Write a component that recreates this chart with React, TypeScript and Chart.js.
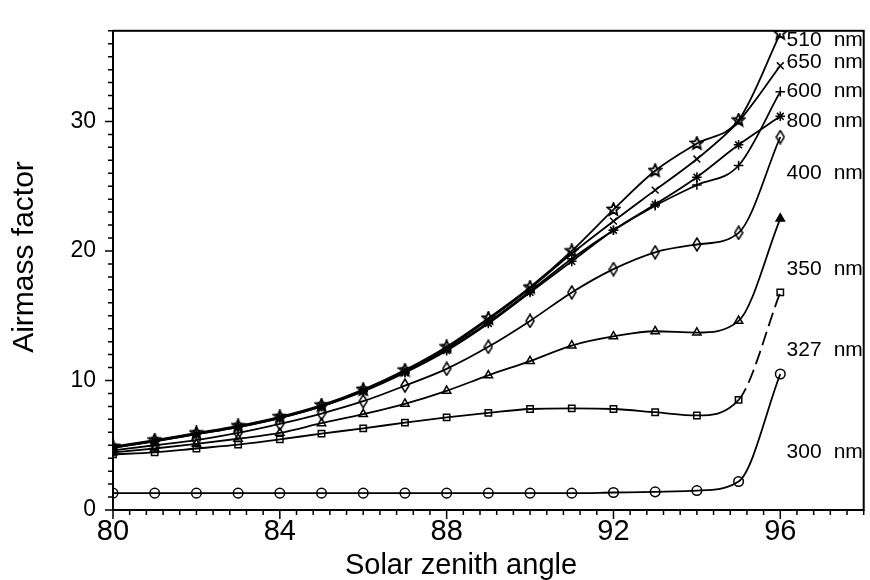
import React, { useEffect, useRef } from 'react';
import { Chart, registerables } from 'chart.js';

Chart.register(...registerables);

// ---- data ----
const angles = [80, 81, 82, 83, 84, 85, 86, 87, 88, 89, 90, 91, 92, 93, 94, 95, 96];

const nm510 = [4.9, 5.4, 5.95, 6.5, 7.2, 8.1, 9.3, 10.8, 12.6, 14.8, 17.2, 20.0, 23.2, 26.2, 28.3, 30.1, 36.8];
const nm650 = [4.85, 5.35, 5.9, 6.45, 7.15, 8.05, 9.25, 10.75, 12.5, 14.7, 17.1, 19.8, 22.3, 24.7, 27.1, 30.0, 34.3];
const nm600 = [4.8, 5.3, 5.85, 6.4, 7.1, 8.0, 9.2, 10.65, 12.4, 14.5, 16.9, 19.4, 21.6, 23.5, 25.1, 26.6, 32.3];
const nm800 = [4.8, 5.3, 5.85, 6.4, 7.1, 8.0, 9.15, 10.6, 12.3, 14.4, 16.8, 19.2, 21.6, 23.6, 25.7, 28.2, 30.4];
const nm400 = [4.6, 5.0, 5.4, 5.95, 6.65, 7.45, 8.4, 9.6, 10.9, 12.6, 14.6, 16.8, 18.6, 19.9, 20.5, 21.4, 28.8];
const nm350 = [4.45, 4.75, 5.1, 5.5, 5.95, 6.7, 7.4, 8.2, 9.2, 10.4, 11.5, 12.7, 13.4, 13.8, 13.7, 14.6, 22.5];
const nm327 = [4.3, 4.45, 4.75, 5.05, 5.45, 5.9, 6.3, 6.75, 7.15, 7.5, 7.8, 7.85, 7.8, 7.55, 7.3, 8.5, 16.8];
const nm300 = [1.3, 1.3, 1.3, 1.3, 1.3, 1.3, 1.3, 1.3, 1.3, 1.3, 1.3, 1.3, 1.35, 1.4, 1.5, 2.2, 10.5];

const xTickValues = [80, 84, 88, 92, 96];
const yTickValues = [0, 10, 20, 30];

const curveLabelNumbers = ['510', '650', '600', '800', '400', '350', '327', '300'];
const curveLabelY = [36.3, 34.6, 32.3, 30.0, 26.0, 18.6, 12.3, 4.5];
const curveLabelUnit = 'nm';

const X_MIN = 80;
const X_MAX = 98;
const Y_MIN = 0;
const Y_MAX = 37;

const FONT = '"Liberation Sans", Arial, Helvetica, sans-serif';

function makeStar(size: number) {
  const c = document.createElement('canvas');
  c.width = size;
  c.height = size;
  const ctx = c.getContext('2d')!;
  ctx.strokeStyle = '#000';
  ctx.lineWidth = 1.8;
  const cx = size / 2, cy = size / 2;
  const R = size / 2 - 1, r = R * 0.45;
  ctx.beginPath();
  for (let i = 0; i < 10; i++) {
    const a = -Math.PI / 2 + (i * Math.PI) / 5;
    const rad = i % 2 === 0 ? R : r;
    const px = cx + rad * Math.cos(a);
    const py = cy + rad * Math.sin(a);
    if (i === 0) ctx.moveTo(px, py); else ctx.lineTo(px, py);
  }
  ctx.closePath();
  ctx.stroke();
  return c;
}

function makeDiamond(w: number, h: number) {
  const c = document.createElement('canvas');
  c.width = w;
  c.height = h;
  const ctx = c.getContext('2d')!;
  ctx.strokeStyle = '#000';
  ctx.lineWidth = 1.5;
  ctx.beginPath();
  ctx.moveTo(w / 2, 1);
  ctx.lineTo(w - 1, h / 2);
  ctx.lineTo(w / 2, h - 1);
  ctx.lineTo(1, h / 2);
  ctx.closePath();
  ctx.stroke();
  return c;
}

const decorPlugin = {
  id: 'decor',
  afterDraw(chart: any) {
    const { ctx, chartArea } = chart;
    const { left, right, top, bottom } = chartArea;
    const xs = chart.scales.x;
    const ys = chart.scales.y;
    ctx.save();
    ctx.strokeStyle = '#000';
    ctx.fillStyle = '#000';

    // curve labels (clipped at the right frame, as in the reference)
    ctx.save();
    ctx.beginPath();
    ctx.rect(left, top - 9, right - left, bottom - top + 9);
    ctx.clip();
    ctx.font = `21px ${FONT}`;
    ctx.textAlign = 'left';
    ctx.textBaseline = 'middle';
    curveLabelNumbers.forEach((t, i) => {
      const py = ys.getPixelForValue(curveLabelY[i]);
      ctx.fillText(t, xs.getPixelForValue(96.15), py);
      ctx.fillText(curveLabelUnit, xs.getPixelForValue(97.28), py);
    });
    ctx.restore();

    // frame
    ctx.lineWidth = 2;
    ctx.strokeRect(left, top, right - left, bottom - top);

    // x ticks (minor every 0.4, major every 4)
    ctx.lineWidth = 1.5;
    ctx.beginPath();
    const nx = Math.round((X_MAX - X_MIN) / 0.4);
    for (let i = 0; i <= nx; i++) {
      const v = X_MIN + i * 0.4;
      const px = xs.getPixelForValue(v);
      const len = i % 10 === 0 ? 9 : 5;
      ctx.moveTo(px, bottom);
      ctx.lineTo(px, bottom + len);
    }
    // y ticks (minor every 1, major every 10)
    for (let v = Y_MIN; v <= Y_MAX; v++) {
      const py = ys.getPixelForValue(v);
      const len = v % 10 === 0 ? 8 : 5;
      ctx.moveTo(left, py);
      ctx.lineTo(left - len, py);
    }
    ctx.stroke();

    // axis titles
    ctx.font = `29px ${FONT}`;
    ctx.textAlign = 'center';
    ctx.textBaseline = 'alphabetic';
    ctx.fillText('Solar zenith angle', 461, 574);

    ctx.font = `30px ${FONT}`;
    ctx.save();
    ctx.translate(33, 257);
    ctx.rotate(-Math.PI / 2);
    ctx.fillText('Airmass factor', 0, 0);
    ctx.restore();

    ctx.restore();
  },
};

export default function App() {
  const canvasRef = useRef<HTMLCanvasElement | null>(null);

  useEffect(() => {
    const canvas = canvasRef.current;
    if (!canvas) return;
    const star = makeStar(15);
    const diamond = makeDiamond(10, 15);

    const toPts = (arr: number[]) => angles.map((a, i) => ({ x: a, y: arr[i] }));
    const base = {
      borderColor: '#000',
      borderWidth: 1.8,
      pointBorderColor: '#000',
      pointBackgroundColor: 'rgba(0,0,0,0)',
      pointBorderWidth: 1.5,
      pointRadius: 4.8,
      cubicInterpolationMode: 'monotone' as const,
      fill: false,
    };

    const chart = new Chart(canvas, {
      type: 'line',
      data: {
        datasets: [
          { ...base, label: '510 nm', data: toPts(nm510), pointStyle: star as any },
          { ...base, label: '650 nm', data: toPts(nm650), pointStyle: 'crossRot' },
          { ...base, label: '600 nm', data: toPts(nm600), pointStyle: 'cross' },
          { ...base, label: '800 nm', data: toPts(nm800), pointStyle: 'star' },
          { ...base, label: '400 nm', data: toPts(nm400), pointStyle: diamond as any },
          {
            ...base,
            label: '350 nm',
            data: toPts(nm350),
            pointStyle: 'triangle',
            pointBackgroundColor: nm350.map((_, i) => (i === nm350.length - 1 ? '#000' : 'rgba(0,0,0,0)')),
          },
          {
            ...base,
            label: '327 nm',
            data: toPts(nm327),
            pointStyle: 'rect',
            pointRadius: 4.5,
            segment: {
              borderDash: (c: any) => (c.p0DataIndex === nm327.length - 2 ? [14, 6] : undefined),
            },
          },
          { ...base, label: '300 nm', data: toPts(nm300), pointStyle: 'circle' },
        ],
      },
      options: {
        responsive: false,
        animation: false,
        events: [],
        layout: { padding: { top: 9, right: 6, left: 0, bottom: 0 } },
        plugins: { legend: { display: false }, tooltip: { enabled: false } },
        scales: {
          x: {
            type: 'linear',
            min: X_MIN,
            max: X_MAX,
            grid: { display: false, drawTicks: false },
            border: { display: false },
            afterBuildTicks: (s: any) => {
              s.ticks = xTickValues.map((v) => ({ value: v }));
            },
            afterFit: (s: any) => {
              s.height = 70;
            },
            ticks: {
              color: '#000',
              font: { family: FONT, size: 29 },
              padding: 5,
              maxRotation: 0,
              autoSkip: false,
            },
          },
          y: {
            type: 'linear',
            min: Y_MIN,
            max: Y_MAX,
            grid: { display: false, drawTicks: false },
            border: { display: false },
            afterBuildTicks: (s: any) => {
              s.ticks = yTickValues.map((v) => ({ value: v }));
            },
            afterFit: (s: any) => {
              s.width = 113;
            },
            ticks: {
              color: '#000',
              font: { family: FONT, size: 23 },
              padding: 17,
              autoSkip: false,
            },
          },
        },
      },
      plugins: [decorPlugin],
    });
    return () => chart.destroy();
  }, []);

  return (
    <div style={{ position: 'absolute', left: 0, top: 0, width: 870, height: 580, background: '#fff' }}>
      <canvas ref={canvasRef} width={870} height={580} />
    </div>
  );
}
